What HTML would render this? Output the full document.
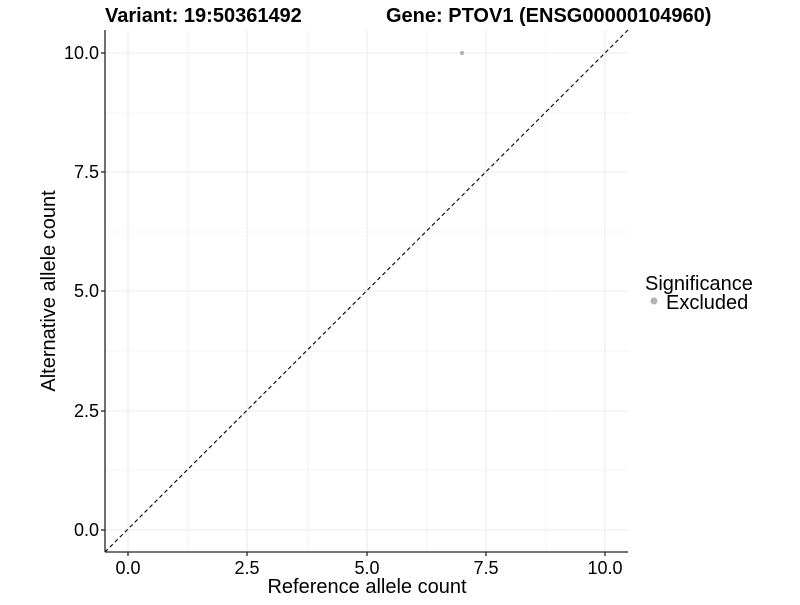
<!DOCTYPE html>
<html><head><style>body{margin:0;background:#fff}</style></head><body>
<svg width="800" height="600" xmlns="http://www.w3.org/2000/svg" font-family="Liberation Sans, Arial, sans-serif">
<rect width="800" height="600" fill="#fff"/>
<g stroke="#ebebeb" stroke-width="0.6">
<line x1="188" y1="30" x2="188" y2="552"/><line x1="308" y1="30" x2="308" y2="552"/><line x1="427" y1="30" x2="427" y2="552"/><line x1="546" y1="30" x2="546" y2="552"/>
<line x1="105" y1="113" x2="628" y2="113"/><line x1="105" y1="232" x2="628" y2="232"/><line x1="105" y1="351" x2="628" y2="351"/><line x1="105" y1="470" x2="628" y2="470"/>
</g>
<g stroke="#ebebeb" stroke-width="1.1">
<line x1="128" y1="30" x2="128" y2="552"/><line x1="247" y1="30" x2="247" y2="552"/><line x1="367" y1="30" x2="367" y2="552"/><line x1="486" y1="30" x2="486" y2="552"/><line x1="605" y1="30" x2="605" y2="552"/>
<line x1="105" y1="53" x2="628" y2="53"/><line x1="105" y1="172" x2="628" y2="172"/><line x1="105" y1="291" x2="628" y2="291"/><line x1="105" y1="411" x2="628" y2="411"/><line x1="105" y1="530" x2="628" y2="530"/>
</g>
<line x1="105" y1="552" x2="628" y2="30" stroke="#000" stroke-width="1.1" stroke-dasharray="4,3"/>
<circle cx="462" cy="53" r="2.2" fill="#b3b3b3"/>
<g stroke="#222" stroke-width="1.3">
<line x1="105" y1="30" x2="105" y2="552"/><line x1="105" y1="552" x2="628" y2="552"/>
<line x1="101" y1="53" x2="105" y2="53"/><line x1="101" y1="172" x2="105" y2="172"/><line x1="101" y1="291" x2="105" y2="291"/><line x1="101" y1="411" x2="105" y2="411"/><line x1="101" y1="530" x2="105" y2="530"/>
<line x1="128" y1="552" x2="128" y2="556"/><line x1="247" y1="552" x2="247" y2="556"/><line x1="367" y1="552" x2="367" y2="556"/><line x1="486" y1="552" x2="486" y2="556"/><line x1="605" y1="552" x2="605" y2="556"/>
</g>
<g font-size="18" fill="#000" text-anchor="end">
<text x="99" y="59">10.0</text><text x="99" y="178">7.5</text><text x="99" y="297">5.0</text><text x="99" y="417">2.5</text><text x="99" y="536">0.0</text>
</g>
<g font-size="18" fill="#000" text-anchor="middle">
<text x="128" y="574">0.0</text><text x="247" y="574">2.5</text><text x="367" y="574">5.0</text><text x="486" y="574">7.5</text><text x="605" y="574">10.0</text>
</g>
<text x="367" y="593" font-size="20" text-anchor="middle">Reference allele count</text>
<text transform="translate(55,291) rotate(-90)" font-size="20" text-anchor="middle">Alternative allele count</text>
<text x="105" y="22" font-size="20" font-weight="bold">Variant: 19:50361492</text>
<text x="386" y="22" font-size="20" font-weight="bold">Gene: PTOV1 (ENSG00000104960)</text>
<text x="645" y="290" font-size="20">Significance</text>
<circle cx="654" cy="301" r="3.5" fill="#b3b3b3"/>
<text x="666" y="309" font-size="20">Excluded</text>
</svg>
</body></html>
